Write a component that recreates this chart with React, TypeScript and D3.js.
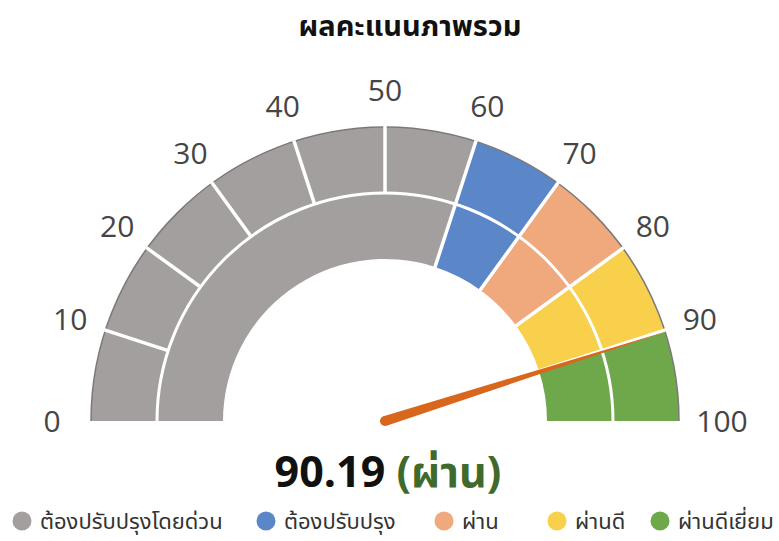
import React from "react";
import * as d3 from "d3";

const title = "ผลคะแนนภาพรวม";
const bandLabels = ["ต้องปรับปรุงโดยด่วน", "ต้องปรับปรุง", "ผ่าน", "ผ่านดี", "ผ่านดีเยี่ยม"];
const bandStarts = [0, 60, 70, 80, 90];
const bandEnds = [60, 70, 80, 90, 100];
const bandColors = ["#a49f9f", "#5b86c8", "#f0a97c", "#f8d04c", "#6fa84b"];
const tickValues = [0, 10, 20, 30, 40, 50, 60, 70, 80, 90, 100];
const score = 90.19;
const scoreStatus = "ผ่าน";
const legendX = [22, 266, 444, 557, 660];

const W = 779, H = 541;
const cx = 385, cy = 421;
const R0 = 162, R1 = 228, R2 = 294, RL = 331;
const THAI = "'Noto Sans Thai', 'Noto Sans', 'Open Sans', sans-serif";

export default function App() {
  const angle = d3.scaleLinear().domain([0, 100]).range([-Math.PI / 2, Math.PI / 2]);
  const arc = d3.arc<any>();
  const colorOf = (v: number) => {
    const i = bandStarts.findIndex((s, k) => v >= s && v < bandEnds[k]);
    return bandColors[i < 0 ? bandColors.length - 1 : i];
  };
  const outerSegs = d3.range(0, 100, 10).map((v) => ({ a: v, b: v + 10, color: colorOf(v) }));
  const pt = (v: number, r: number) => {
    const a = angle(v);
    return [cx + r * Math.sin(a), cy - r * Math.cos(a)];
  };
  const na = angle(score);
  const tip = pt(score, 297);
  const perp = [Math.cos(na), Math.sin(na)];
  const hw = 5;
  const needlePath = `M${cx + perp[0] * hw},${cy + perp[1] * hw} L${tip[0]},${tip[1]} L${cx - perp[0] * hw},${cy - perp[1] * hw} Z`;

  return (
    <svg width={W} height={H} style={{ position: "absolute", left: 0, top: 0, background: "#fff" }}>
      <rect width={W} height={H} fill="#fff" />
      <text x={410} y={36} textAnchor="middle" fontFamily={THAI} fontWeight={700} fontSize={29} fill="#111">{title}</text>
      <g>
        {outerSegs.map((s, i) => (
          <path key={"o" + i} transform={`translate(${cx},${cy})`} fill={s.color}
            d={arc({ innerRadius: R1, outerRadius: R2, startAngle: angle(s.a), endAngle: angle(s.b) }) as string} />
        ))}
        {bandStarts.map((s, i) => (
          <path key={"i" + i} transform={`translate(${cx},${cy})`} fill={bandColors[i]}
            d={arc({ innerRadius: R0, outerRadius: R1, startAngle: angle(s), endAngle: angle(bandEnds[i]) }) as string} />
        ))}
        <path transform={`translate(${cx},${cy})`} fill="none" stroke="#7d7878" strokeWidth={1.5}
          d={arc({ innerRadius: R2, outerRadius: R2, startAngle: angle(0), endAngle: angle(100) }) as string} />
        <path transform={`translate(${cx},${cy})`} fill="none" stroke="#fff" strokeWidth={3}
          d={d3.arc<any>()({ innerRadius: R1, outerRadius: R1, startAngle: angle(0), endAngle: angle(100) }) as string} />
        {tickValues.slice(1, -1).map((v) => {
          const a = pt(v, R1);
          const b = pt(v, R2 + 1);
          return <line key={"so" + v} x1={a[0]} y1={a[1]} x2={b[0]} y2={b[1]} stroke="#fff" strokeWidth={3.5} />;
        })}
        {bandStarts.slice(1).map((v) => {
          const a = pt(v, R0 - 1);
          const b = pt(v, R1);
          return <line key={"si" + v} x1={a[0]} y1={a[1]} x2={b[0]} y2={b[1]} stroke="#fff" strokeWidth={3.5} />;
        })}
      </g>
      {tickValues.map((v) => {
        const p = pt(v, RL);
        return (
          <text key={"t" + v} x={p[0] + (v === 0 ? -2 : v === 100 ? 6 : 0)} y={p[1]} dy="0.36em" textAnchor="middle"
            fontFamily="'Open Sans', sans-serif" fontSize={30} fill="#454545">{v}</text>
        );
      })}
      <path d={needlePath} fill="#d8661c" />
      <circle cx={cx} cy={cy} r={hw} fill="#d8661c" />
      <text x={388} y={487} textAnchor="middle" fontFamily={THAI} fontWeight={700} fontSize={43}>
        <tspan fill="#111">{score.toFixed(2)} </tspan>
        <tspan fill="#3f6a2b">({scoreStatus})</tspan>
      </text>
      {bandLabels.map((l, i) => (
        <g key={"l" + i}>
          <circle cx={legendX[i]} cy={521} r={9.5} fill={bandColors[i]} />
          <text x={legendX[i] + 18} y={529} fontFamily={THAI} fontSize={22} fill="#333">{l}</text>
        </g>
      ))}
    </svg>
  );
}
